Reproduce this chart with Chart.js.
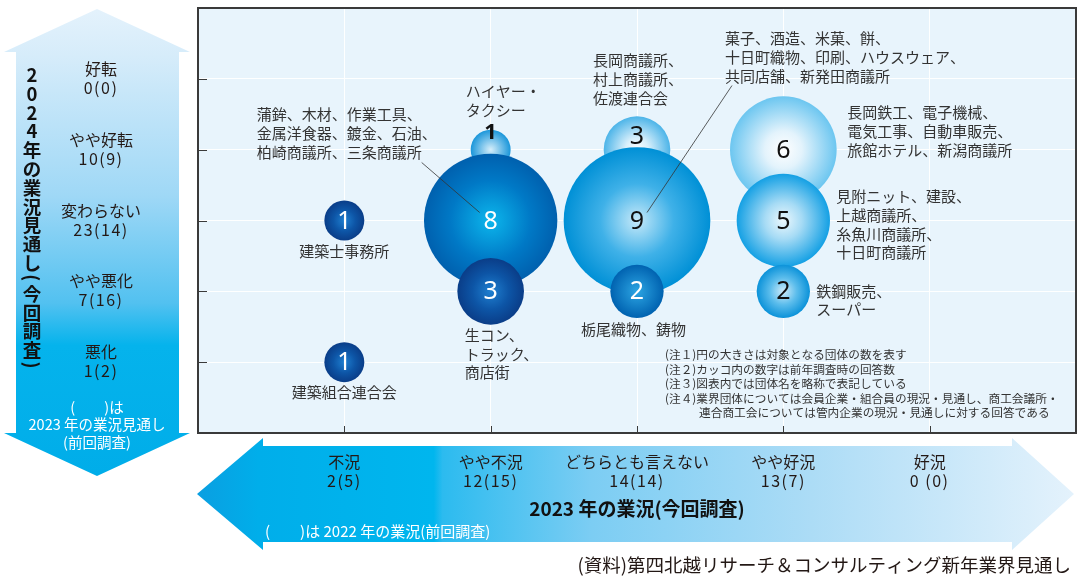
<!DOCTYPE html>
<html><head><meta charset="utf-8">
<script src="https://cdn.jsdelivr.net/npm/chart.js@4"></script>
<style>html,body{margin:0;padding:0;background:#fff}canvas{display:block}</style>
</head><body>
<canvas id="c" width="1077" height="578"></canvas>
<script>
// ---------- data ----------
const xCategories = ['不況', 'やや不況', 'どちらとも言えない', 'やや好況', '好況'];
const xCounts = ['2(5)', '12(15)', '14(14)', '13(7)', '0 (0)'];
const yCategories = ['悪化', 'やや悪化', '変わらない', 'やや好転', '好転'];
const yCounts = ['1(2)', '7(16)', '23(14)', '10(9)', '0(0)'];
const bubbleX = [2, 3, 4, 1, 2, 3, 4, 2, 3, 4, 1];
const bubbleY = [4, 4, 4, 3, 3, 3, 3, 2, 2, 2, 1];
const bubbleCount = [1, 3, 6, 1, 8, 9, 5, 3, 2, 2, 1];
const bubbleNames = [
  ['ハイヤー・', 'タクシー'],
  ['長岡商議所、', '村上商議所、', '佐渡連合会'],
  ['長岡鉄工、電子機械、', '電気工事、自動車販売、', '旅館ホテル、新潟商議所'],
  ['建築士事務所'],
  ['蒲鉾、木材、作業工具、', '金属洋食器、鍍金、石油、', '柏崎商議所、三条商議所'],
  ['菓子、酒造、米菓、餅、', '十日町織物、印刷、ハウスウェア、', '共同店舗、新発田商議所'],
  ['見附ニット、建設、', '上越商議所、', '糸魚川商議所、', '十日町商議所'],
  ['生コン、', 'トラック、', '商店街'],
  ['栃尾織物、鋳物'],
  ['鉄鋼販売、', 'スーパー'],
  ['建築組合連合会']
];
const yTitleChars = ['2','0','2','4','年','の','業','況','見','通','し','(','今','回','調','査',')'];
const xTitle = '2023 年の業況(今回調査)';
const yNoteLines = ['(　　)は', '2023 年の業況見通し', '(前回調査)'];
const xNote = '(　　)は 2022 年の業況(前回調査)';
const notes = [
  '(注１)円の大きさは対象となる団体の数を表す',
  '(注２)カッコ内の数字は前年調査時の回答数',
  '(注３)図表内では団体名を略称で表記している',
  '(注４)業界団体については会員企業・組合員の現況・見通し、商工会議所・',
  '連合商工会については管内企業の現況・見通しに対する回答である'
];
const source = '(資料)第四北越リサーチ＆コンサルティング新年業界見通し';

// ---------- styles (not data) ----------
const DARK = [[0, '#1f7fd0'], [0.55, '#0d55a6'], [1, '#0a3d88']];
const bubbleStyles = [
  { stops: [[0, '#d6eefa'], [1, '#1a96da']], text: '#111', dy: -18, font: 'bold 22px "Noto Sans", sans-serif' },
  { stops: [[0, '#ffffff'], [0.35, '#d8effb'], [1, '#4cb4e8']], text: '#111', dy: -14 },
  { stops: [[0, '#ffffff'], [0.35, '#e3f3fc'], [1, '#6cc6f0']], text: '#111', dy: 0 },
  { stops: DARK, text: '#fff', dy: 0 },
  { stops: [[0, '#0cb6ec'], [0.6, '#0079c6'], [1, '#0060ae']], text: '#fff', dy: 0 },
  { stops: [[0, '#c6e9f9'], [0.5, '#3fb1e8'], [1, '#0090d6']], text: '#111', dy: 0 },
  { stops: [[0, '#ecf8fd'], [0.4, '#a6dbf5'], [1, '#14a0e4']], text: '#111', dy: 0 },
  { stops: DARK, text: '#fff', dy: 0 },
  { stops: [[0, '#2ca5e3'], [1, '#0062b0']], text: '#fff', dy: 0 },
  { stops: [[0, '#cfecfa'], [0.5, '#5cbdec'], [1, '#0b92d9']], text: '#111', dy: 0 },
  { stops: DARK, text: '#fff', dy: 0 }
];
// name label placement relative to bubble centre: dx, dy(first line centre), align
const nameLayout = [
  { dx: -25, dy: -58, align: 'left' },
  { dx: -44, dy: -89, align: 'left' },
  { dx: 64, dy: -37, align: 'left' },
  { dx: 0, dy: 31, align: 'center' },
  { dx: -234, dy: -106, align: 'left' },
  { dx: 88, dy: -182, align: 'left' },
  { dx: 53, dy: -24, align: 'left' },
  { dx: -26, dy: 44, align: 'left' },
  { dx: -56, dy: 38, align: 'left' },
  { dx: 33, dy: 0, align: 'left', lh: 17.5 },
  { dx: 0, dy: 30, align: 'center' }
];
const leaders = { 4: [-69, -58, -11, -8], 5: [95, -135, 10, -8] };

function radiusFor(n) { return 13.3 + 6.67 * n; }

const points = bubbleX.map((x, i) => ({ x: x, y: bubbleY[i], r: radiusFor(bubbleCount[i]) }));

const JP = '"Noto Sans CJK JP", "Noto Sans", sans-serif';
const TXT = '#231815';

const drawPlugin = {
  id: 'deco',
  beforeDraw(chart) {
    const c = chart.ctx, a = chart.chartArea;
    c.save();
    c.fillStyle = '#fff';
    c.fillRect(0, 0, chart.width, chart.height);
    // left vertical arrow
    let g = c.createLinearGradient(0, 9, 0, 476);
    g.addColorStop(0, '#e4f2fc');
    g.addColorStop(0.1, '#d6ecfa');
    g.addColorStop(0.4, '#9fd8f6');
    g.addColorStop(0.63, '#52c1f0');
    g.addColorStop(0.72, '#05b3ec');
    g.addColorStop(1, '#00ade9');
    c.fillStyle = g;
    c.beginPath();
    c.moveTo(97, 9); c.lineTo(190, 52); c.lineTo(179, 52); c.lineTo(179, 433);
    c.lineTo(190, 433); c.lineTo(97, 476); c.lineTo(4, 433); c.lineTo(16, 433);
    c.lineTo(16, 52); c.lineTo(4, 52); c.closePath();
    c.fill();
    // bottom horizontal arrow
    g = c.createLinearGradient(197, 0, 1074, 0);
    g.addColorStop(0, '#0a9fe1');
    g.addColorStop(0.07, '#00aeea');
    g.addColorStop(0.27, '#00b6ee');
    g.addColorStop(0.28, '#2cbbef');
    g.addColorStop(0.45, '#7ccdf3');
    g.addColorStop(0.7, '#acdcf6');
    g.addColorStop(1, '#e4f2fc');
    c.fillStyle = g;
    c.beginPath();
    c.moveTo(197, 494); c.lineTo(263, 438); c.lineTo(263, 446); c.lineTo(1012, 446);
    c.lineTo(1012, 438); c.lineTo(1074, 494); c.lineTo(1012, 550); c.lineTo(1012, 542);
    c.lineTo(263, 542); c.lineTo(263, 550); c.closePath();
    c.fill();
    // plot background
    c.fillStyle = '#e8f4fc';
    c.fillRect(a.left, a.top, a.right - a.left, a.bottom - a.top);
    c.restore();
  },
  afterDraw(chart) {
    const c = chart.ctx, a = chart.chartArea;
    const sx = chart.scales.x, sy = chart.scales.y;
    c.save();
    // frame
    c.strokeStyle = '#3a3a3a';
    c.lineWidth = 2;
    c.strokeRect(a.left, a.top, a.right - a.left, a.bottom - a.top);
    // inward ticks
    c.lineWidth = 1;
    c.beginPath();
    for (let v = 1; v <= 5; v++) {
      const py = Math.round(sy.getPixelForValue(v)) + 0.5;
      c.moveTo(a.left, py); c.lineTo(a.left + 9, py);
      const px = Math.round(sx.getPixelForValue(v)) + 0.5;
      c.moveTo(px, a.bottom); c.lineTo(px, a.bottom - 7);
    }
    c.stroke();

    // bubble numbers, names, leaders
    const meta = chart.getDatasetMeta(0);
    c.textBaseline = 'middle';
    meta.data.forEach((el, i) => {
      const st = bubbleStyles[i];
      c.fillStyle = st.text;
      c.textAlign = 'center';
      c.font = st.font || '25px "Noto Sans", sans-serif';
      c.fillText(String(bubbleCount[i]), el.x, el.y + st.dy + 1);
    });
    c.strokeStyle = '#333';
    c.lineWidth = 0.8;
    Object.keys(leaders).forEach(k => {
      const el = meta.data[k], L = leaders[k];
      c.beginPath();
      c.moveTo(el.x + L[0], el.y + L[1]);
      c.lineTo(el.x + L[2], el.y + L[3]);
      c.stroke();
    });
    c.fillStyle = '#333';
    c.font = '15px ' + JP;
    meta.data.forEach((el, i) => {
      const lay = nameLayout[i];
      const lh = lay.lh || 18.7;
      c.textAlign = lay.align;
      bubbleNames[i].forEach((t, j) => c.fillText(t, el.x + lay.dx, el.y + lay.dy + j * lh));
    });
    // notes
    c.font = '11.7px ' + JP;
    c.textAlign = 'left';
    c.fillStyle = '#333';
    notes.forEach((t, j) => c.fillText(t, j === 4 ? 699 : 665, 355 + j * 14.4));

    // y category labels in left arrow
    c.fillStyle = TXT;
    c.textAlign = 'center';
    yCategories.forEach((t, i) => {
      const py = sy.getPixelForValue(i + 1);
      c.font = '16px ' + JP;
      c.letterSpacing = '0px';
      c.fillText(t, 101, py - 10);
      c.letterSpacing = '1.5px';
      c.fillText(yCounts[i], 101, py + 9);
    });
    // x category labels in bottom arrow
    xCategories.forEach((t, i) => {
      const px = sx.getPixelForValue(i + 1);
      c.font = '16px ' + JP;
      c.letterSpacing = '0px';
      c.fillText(t, px, 462);
      c.letterSpacing = '1.5px';
      c.fillText(xCounts[i], px, 481);
    });
    c.letterSpacing = '0px';
    // vertical y title
    c.font = 'bold 18.5px ' + JP;
    c.fillStyle = '#111';
    let yy = 75;
    yTitleChars.forEach((ch) => {
      if (ch === '(' || ch === ')') {
        c.save();
        c.translate(32, yy - 4);
        c.rotate(Math.PI / 2);
        c.fillText(ch, 0, 0);
        c.restore();
        yy += 12;
      } else {
        c.fillText(ch, 32, yy);
        yy += 18.8;
      }
    });
    // x title
    c.font = 'bold 19px ' + JP;
    c.fillText(xTitle, (a.left + a.right) / 2, 509);
    // white notes
    c.fillStyle = '#fff';
    c.font = '14.5px ' + JP;
    yNoteLines.forEach((t, j) => c.fillText(t, 97, 407 + j * 17.5));
    c.textAlign = 'left';
    c.font = '15px ' + JP;
    c.fillText(xNote, 265, 531);
    // source
    c.fillStyle = TXT;
    c.textAlign = 'right';
    c.font = '18.5px ' + JP;
    c.fillText(source, 1071, 565);
    c.restore();
  }
};

new Chart(document.getElementById('c'), {
  type: 'bubble',
  data: {
    datasets: [{
      data: points,
      clip: false,
      borderWidth: 0,
      hoverBorderWidth: 0,
      backgroundColor: (ctx) => {
        if (ctx.type !== 'data') return '#0090d8';
        const ch = ctx.chart, sx = ch.scales.x, sy = ch.scales.y;
        if (!sx || !sy || !ch.chartArea) return '#0090d8';
        const px = sx.getPixelForValue(ctx.raw.x), py = sy.getPixelForValue(ctx.raw.y), r = ctx.raw.r;
        const g = ch.ctx.createRadialGradient(px, py, 0, px, py, r);
        bubbleStyles[ctx.dataIndex].stops.forEach(s => g.addColorStop(s[0], s[1]));
        return g;
      }
    }]
  },
  options: {
    responsive: false,
    animation: false,
    events: [],
    layout: { autoPadding: false, padding: { left: 198, top: 8, right: 1, bottom: 145 } },
    scales: {
      x: {
        type: 'linear', min: 0, max: 6,
        ticks: { display: false, stepSize: 1 },
        border: { display: false },
        grid: {
          drawTicks: false,
          color: (ctx) => (ctx.tick && ctx.tick.value >= 1 && ctx.tick.value <= 5) ? 'rgba(255,255,255,0.95)' : 'rgba(0,0,0,0)',
          lineWidth: 1
        },
        afterFit: (s) => { s.height = 0; }
      },
      y: {
        type: 'linear', min: 0, max: 6,
        ticks: { display: false, stepSize: 1 },
        border: { display: false },
        grid: {
          drawTicks: false,
          color: (ctx) => (ctx.tick && ctx.tick.value >= 1 && ctx.tick.value <= 5) ? 'rgba(255,255,255,0.95)' : 'rgba(0,0,0,0)',
          lineWidth: 1
        },
        afterFit: (s) => { s.width = 0; }
      }
    },
    plugins: { legend: { display: false }, tooltip: { enabled: false }, title: { display: false } }
  },
  plugins: [drawPlugin]
});
</script>
</body></html>
